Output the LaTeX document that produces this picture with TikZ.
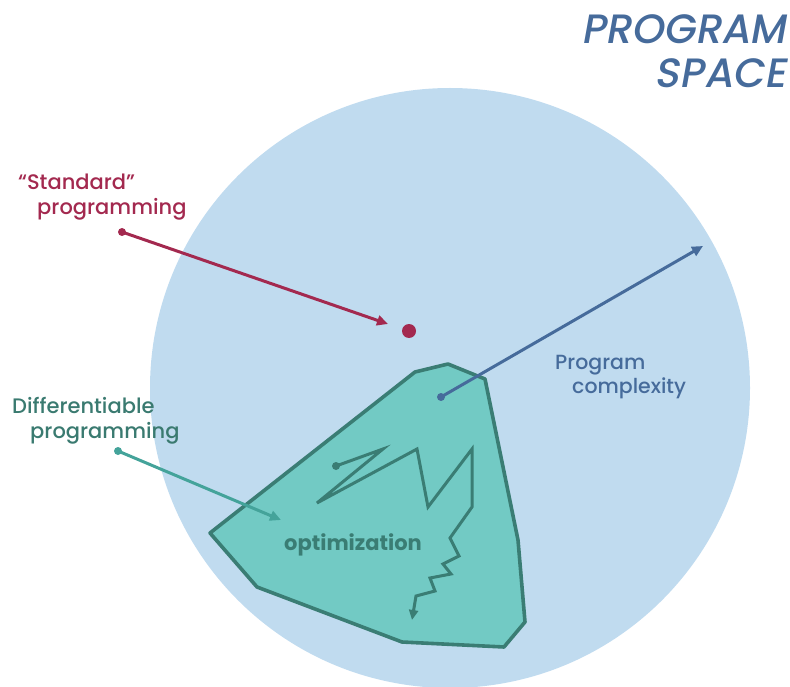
\documentclass[tikz,border=0pt]{standalone}
\usepackage{fontspec}
\setmainfont{Poppins Medium}[BoldFont=Poppins Bold]
\newfontfamily\titlefont{Poppins Medium}[FakeSlant=0.18]
\usetikzlibrary{arrows.meta}
\definecolor{spaceblue}{HTML}{C0DBEF}
\definecolor{titleblue}{HTML}{466B9B}
\definecolor{polyfill}{HTML}{72CAC4}
\definecolor{polyedge}{HTML}{3A7D74}
\definecolor{stdred}{HTML}{A3294F}
\definecolor{difftext}{HTML}{3A7A70}
\definecolor{diffarrow}{HTML}{44A39A}
\tikzset{
  lbl/.style={inner sep=0pt, anchor=base west, font=\fontsize{21}{25}\selectfont},
  pointer/.style={line width=3pt, -{Triangle[length=11pt,width=10pt]}},
}
\begin{document}
\begin{tikzpicture}[x=1pt,y=-1pt]
\useasboundingbox (0,0) rectangle (790,687);
\begin{scope}
\clip (0,0) rectangle (790,687);
\fill[spaceblue] (450,388) circle[radius=300];
\end{scope}
% title
\node[inner sep=0pt, anchor=base east, text=titleblue, font=\titlefont\fontsize{41}{46}\selectfont] (title1) at (786,44) {PROGRAM};
\node[inner sep=0pt, anchor=base east, text=titleblue, font=\titlefont\fontsize{41}{46}\selectfont] (title2) at (786,88) {SPACE};
% polygon region
\draw[fill=polyfill, draw=polyedge, line width=3.6pt, line join=round]
  (415,372) -- (448,364) -- (485,379) -- (518,540) -- (525,622) -- (504,647)
  -- (402,642) -- (257,587) -- (210,533) -- cycle;
% optimization path
\coordinate (zs) at (336,466);
\fill[polyedge] (zs) circle[radius=4pt];
\draw[polyedge, line width=3pt, line join=miter, -{Triangle[length=10pt,width=9pt]}]
  (zs) -- (383,449) -- (317,503) -- (417,449) -- (428,507) -- (472,449) -- (472,507)
  -- (450,538) -- (459,556) -- (443,564) -- (451,574) -- (430,578) -- (435,591)
  -- (416,596) -- (412,620);
\node[inner sep=0pt, text=polyedge, font=\bfseries\fontsize{21}{25}\selectfont] (opt) at (353,545) {optimization};
% standard programming
\node[lbl, text=stdred] (std1) at (18,190) {“Standard”};
\node[lbl, text=stdred] (std2) at (37,215) {programming};
\coordinate (stdstart) at (122,232);
\coordinate (stdend) at (388,324);
\node[circle, fill=stdred, inner sep=0pt, minimum size=14pt] (stddot) at (409,331) {};
\fill[stdred] (stdstart) circle[radius=4pt];
\draw[stdred, pointer] (stdstart) -- (stdend);
% differentiable programming
\node[lbl, text=difftext] (diff1) at (12,413) {Differentiable};
\node[lbl, text=difftext] (diff2) at (30,438) {programming};
\coordinate (diffstart) at (118,451);
\coordinate (diffend) at (281,520);
\fill[diffarrow] (diffstart) circle[radius=4pt];
\draw[diffarrow, pointer] (diffstart) -- (diffend);
% program complexity
\coordinate (cstart) at (441,397);
\coordinate (cend) at (703,246);
\fill[titleblue] (cstart) circle[radius=4pt];
\draw[titleblue, pointer] (cstart) -- (cend);
\node[lbl, text=titleblue, font=\fontsize{20.5}{24}\selectfont] (comp1) at (555,369) {Program};
\node[lbl, text=titleblue, font=\fontsize{20.5}{24}\selectfont] (comp2) at (572,393) {complexity};
\end{tikzpicture}
\end{document}
